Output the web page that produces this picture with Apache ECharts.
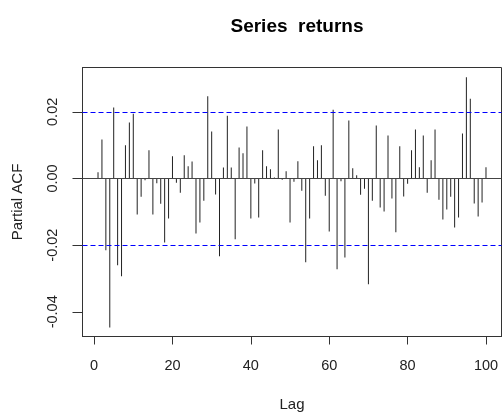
<!DOCTYPE html>
<html>
<head>
<meta charset="utf-8">
<script src="https://cdn.jsdelivr.net/npm/echarts@6/dist/echarts.min.js"></script>
<style>
  html, body { margin: 0; padding: 0; background: #fff; }
  #chart { width: 504px; height: 413px; }
</style>
</head>
<body>
<div id="chart"></div>
<script>
// Partial autocorrelation of the returns series, lags 1..100
const lags = Array.from({ length: 100 }, (_, i) => i + 1);
const pacfValues = [
  0.0019, 0.0117, -0.0215, -0.0447, 0.0213, -0.0260, -0.0293, 0.0100, 0.0168, 0.0194,
  -0.0108, -0.0055, -0.0005, 0.0085, -0.0108, -0.0014, -0.0076, -0.0192, -0.0120, 0.0067,
  -0.0013, -0.0043, 0.0070, 0.0037, 0.0051, -0.0165, -0.0132, -0.0067, 0.0247, 0.0141,
  -0.0048, -0.0233, 0.0033, 0.0188, 0.0033, -0.0182, 0.0093, 0.0076, 0.0156, -0.0120,
  -0.0015, -0.0117, 0.0085, 0.0037, 0.0028, 0.0003, 0.0147, -0.0004, 0.0022, -0.0132,
  -0.0010, 0.0052, -0.0037, -0.0251, -0.0120, 0.0097, 0.0055, 0.0100, -0.0052, -0.0159,
  0.0206, -0.0272, -0.0008, -0.0237, 0.0174, 0.0031, 0.0010, -0.0049, -0.0031, -0.0317,
  -0.0067, 0.0159, -0.0087, -0.0099, 0.0129, -0.0060, -0.0161, 0.0097, -0.0054, -0.0016,
  0.0085, 0.0147, 0.0034, 0.0129, -0.0043, 0.0055, 0.0147, -0.0064, -0.0123, -0.0093,
  -0.0055, -0.0147, -0.0117, 0.0135, 0.0304, 0.0239, -0.0075, -0.0114, -0.0072, 0.0034
];
// 95% significance bound
const confLimit = 0.0212;
const xTicks = [0, 20, 40, 60, 80, 100];
const yTicks = [-0.04, -0.02, 0.00, 0.02];

const font = "'Liberation Sans', Arial, sans-serif";
const chart = echarts.init(document.getElementById('chart'), null, { renderer: 'canvas' });

chart.setOption({
  animation: false,
  backgroundColor: '#ffffff',
  title: {
    text: 'Series  returns',
    left: 292, top: 12, textAlign: 'center',
    textStyle: { fontFamily: font, fontSize: 19, fontWeight: 'bold', color: '#000' }
  },
  grid: {
    left: 82.5, right: 2.5, top: 67.5, bottom: 76.5,
    outerBoundsMode: 'none', containLabel: false,
    show: true, borderColor: '#333', borderWidth: 1, backgroundColor: 'transparent'
  },
  xAxis: {
    type: 'value', min: -2.96, max: 103.96,
    name: 'Lag', nameLocation: 'middle', nameGap: 61,
    nameTextStyle: { fontFamily: font, fontSize: 15, color: '#222' },
    axisLine: { show: true, onZero: false, lineStyle: { color: '#333' } },
    splitLine: { show: false },
    axisTick: { show: true, inside: false, length: 8, customValues: xTicks, lineStyle: { color: '#333' } },
    axisLabel: { customValues: xTicks, margin: 22, fontFamily: font, fontSize: 14.5, color: '#222' }
  },
  yAxis: {
    type: 'value', min: -0.0474, max: 0.0333,
    name: 'Partial ACF', nameLocation: 'middle', nameGap: 57, nameRotate: 90,
    nameTextStyle: { fontFamily: font, fontSize: 15, color: '#222' },
    axisLine: { show: true, onZero: false, lineStyle: { color: '#333' } },
    splitLine: { show: false },
    axisTick: { show: true, inside: false, length: 10, customValues: yTicks, lineStyle: { color: '#333' } },
    axisLabel: {
      customValues: yTicks, rotate: 90, margin: 22,
      fontFamily: font, fontSize: 14.5, color: '#222',
      formatter: v => v.toFixed(2)
    }
  },
  series: [{
    type: 'bar',
    data: lags.map((l, i) => [l, pacfValues[i]]),
    barWidth: 1,
    itemStyle: { color: '#222' },
    silent: true,
    markLine: {
      silent: true, symbol: 'none', label: { show: false },
      data: [
        { yAxis: 0, lineStyle: { color: '#444', type: 'solid', width: 1 } },
        { yAxis: confLimit, lineStyle: { color: '#0000ff', type: [5, 3], width: 1 } },
        { yAxis: -confLimit, lineStyle: { color: '#0000ff', type: [5, 3], width: 1 } }
      ]
    }
  }]
});
</script>
</body>
</html>
